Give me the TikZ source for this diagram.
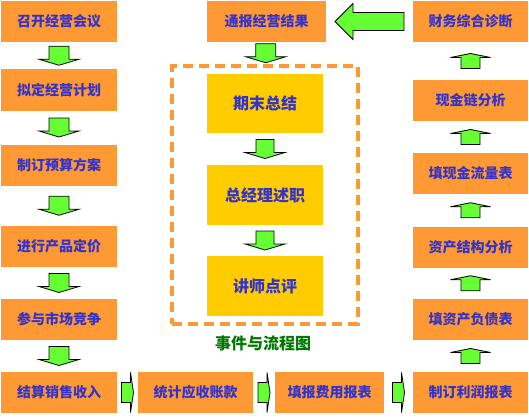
\documentclass[tikz,border=0pt]{standalone}
\usepackage{fontspec}
\newfontfamily\cjk{Noto Sans CJK SC}
\usetikzlibrary{calc}
\usetikzlibrary{fit}

\definecolor{boxorange}{RGB}{255,153,51}
\definecolor{boxyellow}{RGB}{255,204,0}
\definecolor{arrowgreen}{RGB}{102,255,51}
\definecolor{labelblue}{RGB}{51,51,204}
\definecolor{titlegreen}{RGB}{0,120,0}

\tikzset{
  stepbox/.style={fill=boxorange, text=labelblue, font=\cjk\bfseries\fontsize{14}{14}\selectfont,
    minimum width=116, minimum height=41, inner sep=0},
  eventbox/.style={fill=boxyellow, text=labelblue, font=\cjk\bfseries\fontsize{16}{16}\selectfont,
    minimum width=116, minimum height=60, inner sep=0},
  greenarrow/.style={fill=arrowgreen, draw=black, line width=0.8pt},
  eventframe/.style={draw=boxorange, line width=4pt, dash pattern=on 10pt off 6pt,
    inner xsep=34.5, inner ysep=7.5}
}

% block arrow: from, to, angle, length, head length, shaft half width, head half width
\newcommand{\flowarrow}[7]{%
  \begin{scope}[shift={($(#1)!0.5!(#2)$)}, rotate=#3]
    \draw[greenarrow] (-#4/2,-#6) -- (#4/2-#5,-#6) -- (#4/2-#5,-#7) -- (#4/2,0)
      -- (#4/2-#5,#7) -- (#4/2-#5,#6) -- (-#4/2,#6) -- cycle;
  \end{scope}}

\begin{document}
\begin{tikzpicture}[x=1pt,y=-1pt]
        \useasboundingbox (0,0) rectangle (529,417);
        % left column
        \node[stepbox] (L1) at (59,21.5) {召开经营会议};
        \node[stepbox] (L2) at (59,90) {拟定经营计划};
        \node[stepbox] (L3) at (59,165) {制订预算方案};
        \node[stepbox] (L4) at (59,246.5) {进行产品定价};
        \node[stepbox] (L5) at (59,319.5) {参与市场竞争};
        \node[stepbox] (L6) at (59,392.5) {结算销售收入};
        % bottom row
        \node[stepbox, minimum width=115] (B2) at (195.5,392.5) {统计应收账款};
        \node[stepbox, minimum width=109] (B3) at (329.5,392.5) {填报费用报表};
        % right column
        \node[stepbox, minimum width=115] (R6) at (470.5,392.5) {制订利润报表};
        \node[stepbox, minimum width=115] (R5) at (470.5,319.5) {填资产负债表};
        \node[stepbox, minimum width=115] (R4) at (470.5,247) {资产结构分析};
        \node[stepbox, minimum width=115] (R3) at (470.5,173.5) {填现金流量表};
        \node[stepbox, minimum width=115] (R2) at (470.5,100.5) {现金链分析};
        \node[stepbox, minimum width=115] (R1) at (470.5,21.5) {财务综合诊断};
        % middle
        \node[stepbox, minimum width=119] (T) at (266.5,21.5) {通报经营结果};
        \node[eventbox, minimum height=59] (Y1) at (265,103.5) {期末总结};
        \node[eventbox] (Y2) at (265,195) {总经理述职};
        \node[eventbox] (Y3) at (265,286) {讲师点评};
        \node[eventframe, fit=(Y1)(Y3)] (frame) {};
        \node[text=titlegreen, font=\cjk\bfseries\fontsize{16}{16}\selectfont] (title) at (263,343) {事件与流程图};

        \foreach \a/\b in {L1/L2,L2/L3,L3/L4,L4/L5,L5/L6}{
            \flowarrow{\a.south}{\b.north}{-90}{19}{6}{10}{20}
          }
        \foreach \a/\b in {L6/B2,B2/B3,B3/R6}{
            \flowarrow{\a.east}{\b.west}{0}{12}{3}{10}{20}
          }
        \foreach \a/\b in {R6/R5,R5/R4,R4/R3,R3/R2,R2/R1}{
            \flowarrow{\a.north}{\b.south}{90}{15}{4}{9.5}{20}
          }
        \flowarrow{R1.west}{T.east}{180}{69}{18}{9}{18}
        \flowarrow{T.south}{frame.north}{-90}{19}{6}{10}{20}
        \foreach \a/\b in {Y1/Y2,Y2/Y3}{
            \flowarrow{\a.south}{\b.north}{-90}{19}{6}{9}{20}
          }
      \end{tikzpicture}
\end{document}
